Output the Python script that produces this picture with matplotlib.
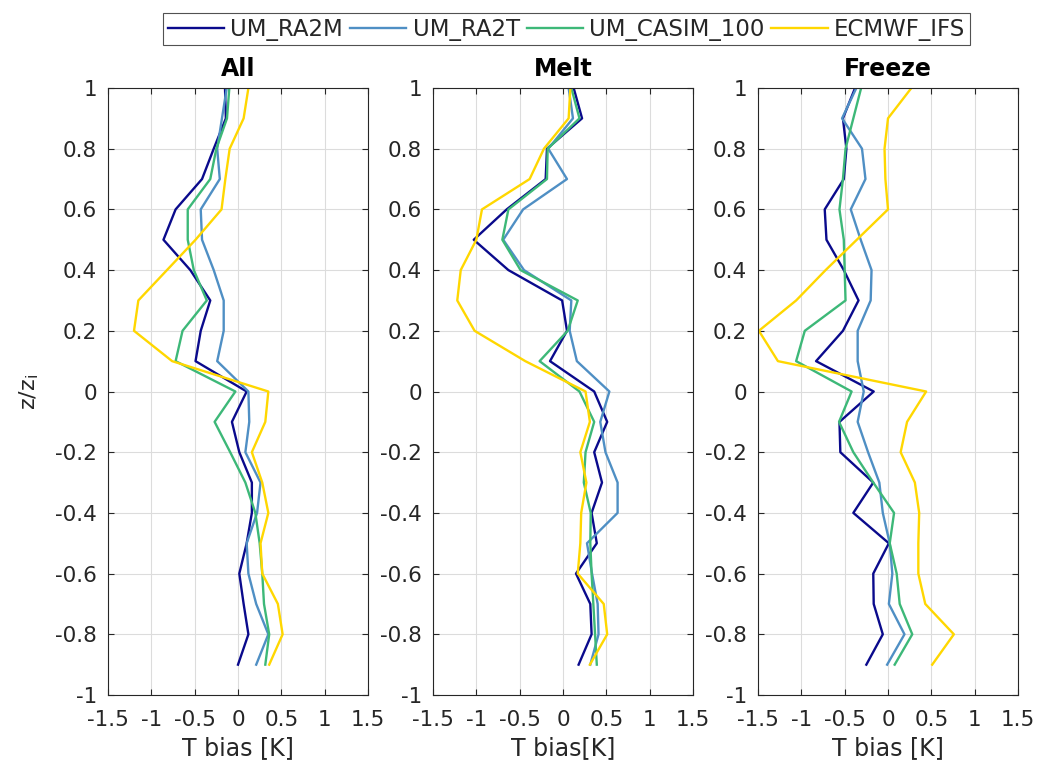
import numpy as np
import matplotlib
matplotlib.use("Agg")
import matplotlib.pyplot as plt

plt.rcParams['axes.unicode_minus'] = False
plt.rcParams['font.family'] = ['DejaVu Sans']

z = [1.0, 0.9, 0.8, 0.7, 0.6, 0.5, 0.4, 0.3, 0.2, 0.1, 0.0,
     -0.1, -0.2, -0.3, -0.4, -0.5, -0.6, -0.7, -0.8, -0.9]

series_names = ["UM_RA2M", "UM_RA2T", "UM_CASIM_100", "ECMWF_IFS"]
panel_titles = ["All", "Melt", "Freeze"]
xlabels = ["T bias [K]", "T bias[K]", "T bias [K]"]

# All
all_ra2m = [-0.15, -0.14, -0.28, -0.415, -0.72, -0.86, -0.55, -0.32, -0.43, -0.49, 0.10,
            -0.07, 0.015, 0.16, 0.16, 0.10, 0.015, 0.065, 0.12, 0.0]
all_ra2t = [-0.13, -0.185, -0.24, -0.21, -0.43, -0.415, -0.28, -0.165, -0.165, -0.24, 0.12,
            0.13, 0.085, 0.26, 0.22, 0.10, 0.12, 0.21, 0.35, 0.21]
all_casim = [-0.10, -0.127, -0.25, -0.32, -0.58, -0.58, -0.51, -0.36, -0.64, -0.72, -0.03,
             -0.27, -0.09, 0.085, 0.20, 0.25, 0.28, 0.30, 0.36, 0.315]
all_ifs = [0.12, 0.065, -0.096, -0.146, -0.19, -0.49, -0.82, -1.15, -1.20, -0.76, 0.35,
           0.315, 0.16, 0.28, 0.35, 0.26, 0.28, 0.46, 0.515, 0.36]

# Melt
melt_ra2m = [0.123, 0.22, -0.185, -0.20, -0.65, -1.03, -0.63, -0.01, 0.046, -0.15, 0.36,
             0.51, 0.36, 0.45, 0.33, 0.39, 0.15, 0.315, 0.33, 0.18]
melt_ra2t = [0.065, 0.115, -0.17, 0.046, -0.46, -0.69, -0.45, 0.096, 0.077, 0.16, 0.535,
             0.43, 0.49, 0.63, 0.63, 0.277, 0.335, 0.40, 0.41, 0.315]
melt_casim = [0.096, 0.19, -0.177, -0.185, -0.63, -0.70, -0.49, 0.17, 0.054, -0.27, 0.19,
              0.36, 0.26, 0.24, 0.32, 0.315, 0.33, 0.35, 0.37, 0.39]
melt_ifs = [0.085, 0.065, -0.22, -0.385, -0.935, -1.0, -1.18, -1.22, -1.02, -0.435, 0.26,
            0.31, 0.20, 0.27, 0.21, 0.20, 0.17, 0.47, 0.51, 0.31]

# Freeze
frz_ra2m = [-0.38, -0.52, -0.48, -0.51, -0.73, -0.71, -0.51, -0.34, -0.52, -0.83, -0.165,
            -0.56, -0.55, -0.17, -0.40, 0.01, -0.17, -0.165, -0.06, -0.25]
frz_ra2t = [-0.365, -0.53, -0.30, -0.26, -0.43, -0.315, -0.19, -0.20, -0.35, -0.35, -0.28,
            -0.35, -0.23, -0.10, -0.06, 0.02, 0.05, 0.01, 0.19, -0.01]
frz_casim = [-0.31, -0.40, -0.49, -0.52, -0.56, -0.51, -0.50, -0.49, -0.96, -1.06, -0.42,
             -0.565, -0.40, -0.17, 0.07, 0.02, 0.10, 0.135, 0.28, 0.077]
frz_ifs = [0.27, 0.0, -0.04, -0.03, 0.0, -0.36, -0.72, -1.06, -1.49, -1.27, 0.44,
           0.22, 0.146, 0.31, 0.36, 0.35, 0.35, 0.43, 0.76, 0.51]

panels = [
    [all_ra2m, all_ra2t, all_casim, all_ifs],
    [melt_ra2m, melt_ra2t, melt_casim, melt_ifs],
    [frz_ra2m, frz_ra2t, frz_casim, frz_ifs],
]

colors = ["#0a0a8c", "#4f8fc4", "#3db878", "#ffd700"]
txt = "#262626"

fig = plt.figure(figsize=(10.38, 7.64), dpi=100)
lefts = [108, 433, 758]
W, H = 1038.0, 764.0
handles = []
for i, data in enumerate(panels):
    ax = fig.add_axes([lefts[i] / W, 1 - 695 / H, 260 / W, 607 / H])
    for j, vals in enumerate(data):
        h, = ax.plot(vals, z, color=colors[j], lw=1.7, label=series_names[j])
        if i == 0:
            handles.append(h)
    ax.set_xlim(-1.5, 1.5)
    ax.set_ylim(-1, 1)
    ax.set_xticks([-1.5, -1, -0.5, 0, 0.5, 1, 1.5])
    ax.set_xticklabels(["-1.5", "-1", "-0.5", "0", "0.5", "1", "1.5"])
    ax.set_yticks(np.arange(-1, 1.01, 0.2))
    ax.set_yticklabels(["-1", "-0.8", "-0.6", "-0.4", "-0.2", "0", "0.2", "0.4", "0.6", "0.8", "1"])
    ax.grid(True, color="#dcdcdc", lw=0.8)
    ax.set_axisbelow(True)
    ax.tick_params(direction="in", top=True, right=True, labelsize=15.5,
                   colors="#262626", length=4)
    ax.tick_params(axis="x", pad=11)
    ax.tick_params(axis="y", pad=8)
    for sp in ax.spines.values():
        sp.set_color("#262626")
        sp.set_linewidth(0.8)
    ax.set_title(panel_titles[i], fontsize=17, fontweight="bold", color="black", pad=9)
    ax.set_xlabel(xlabels[i], fontsize=17, color=txt, labelpad=4)
    if i == 0:
        ax.set_ylabel("z/z$_\\mathregular{i}$", fontsize=16, color=txt, labelpad=10)

leg = fig.legend(handles=handles, labels=series_names, loc="upper center",
                 bbox_to_anchor=(566.5 / W, 1 - 13 / H), ncol=4, fontsize=16.5,
                 frameon=True, fancybox=False, handlelength=2.45, handletextpad=0.28,
                 columnspacing=0.3, borderpad=0.2, labelspacing=0.2, borderaxespad=0)
leg.get_frame().set_edgecolor("#262626")
leg.get_frame().set_linewidth(0.8)
for t in leg.get_texts():
    t.set_color(txt)

fig.savefig("out.png", dpi=100)
